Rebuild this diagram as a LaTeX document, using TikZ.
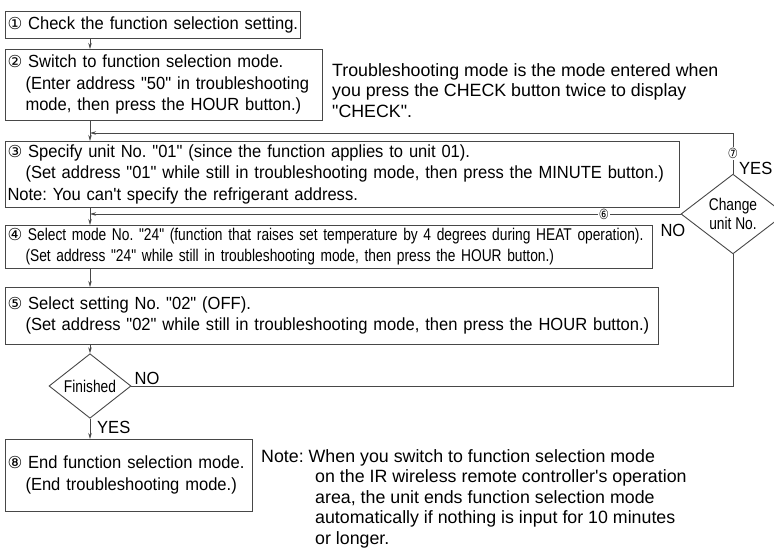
\documentclass[tikz,border=0pt]{standalone}
\usepackage{fontspec}
\newfontfamily\bodyfont[FakeStretch=0.94]{Liberation Sans}
\newfontfamily\notefont{Liberation Sans}
\newfontfamily\narrowfont[FakeStretch=0.81]{Liberation Sans}
\newfontfamily\circfont{DejaVu Sans}
\newfontfamily\circnarrow[FakeStretch=0.8]{DejaVu Sans}
\usetikzlibrary{arrows.meta, positioning, shapes.geometric}
\newcommand{\cn}[1]{{\circfont\fontsize{16.5}{16.5}\selectfont #1}}
\newcommand{\ind}{\hspace*{18pt}}
\colorlet{linec}{black!72}

\begin{document}
\frenchspacing
\begin{tikzpicture}[x=1pt, y=-1pt,
        font=\bodyfont\fontsize{17.6}{21.5}\selectfont,
        proc/.style = {draw=linec, line width=0.9pt, anchor=north west, inner xsep=2.5pt, inner ysep=0pt, align=left, outer sep=0pt},
        decision/.style = {draw=linec, line width=0.9pt, diamond, inner sep=0pt, align=center, font=\narrowfont\fontsize{17}{19}\selectfont},
        lbl/.style = {inner sep=0pt},
        circ/.style = {fill=white, inner sep=1pt, font=\circnarrow\fontsize{14}{14}\selectfont},
        arr/.style = {draw=linec, line width=0.8pt, -{Stealth[length=6pt, width=3.5pt]}},
        conn/.style = {draw=linec, line width=0.8pt}]
    \useasboundingbox (0,0) rectangle (774,549);
    \coordinate (spine) at (90,0);
    \coordinate (back) at (0,133);

    \node[proc, text width=290pt, minimum height=27pt] (1) at (5,11) {\mbox{\cn{①} Check the function selection setting.}};
    \node[proc, text width=312pt, minimum height=71pt] (2) at (5,49) {\cn{②} Switch to function selection mode.\\\ind(Enter address "50" in troubleshooting\\\ind mode, then press the HOUR button.)};
    \node[lbl, align=left, font=\notefont\fontsize{17.8}{20.5}\selectfont, below right=14pt and 10pt of 2.north east] (tnote) {Troubleshooting mode is the mode entered when\\you press the CHECK button twice to display\\"CHECK".};
    \node[proc, text width=669pt, minimum height=66pt] (3) at (5,141) {\cn{③} Specify unit No. "01" (since the function applies to unit 01).\\\ind\mbox{(Set address "01" while still in troubleshooting mode, then press the MINUTE button.)}\\Note: You can't specify the refrigerant address.};
    \node[proc, text width=642pt, minimum height=43pt, font=\narrowfont\fontsize{17}{21}\selectfont] (4) at (5,225) {\mbox{\cn{④} Select mode No. "24" (function that raises set temperature by 4 degrees during HEAT operation).}\\\ind(Set address "24" while still in troubleshooting mode, then press the HOUR button.)};
    \node[proc, text width=648pt, minimum height=57pt] (5) at (5,287) {\cn{⑤} Select setting No. "02" (OFF).\\\ind\mbox{(Set address "02" while still in troubleshooting mode, then press the HOUR button.)}};
    \node[decision, minimum width=82pt, minimum height=46pt] (fin) at (90,386) {Finished};
    \node[decision, minimum width=104pt, minimum height=54pt] (chg) at (733,214) {Change\\unit No.};
    \node[proc, text width=242pt, minimum height=72pt] (8) at (5,439) {\cn{⑧} End function selection mode.\\\ind(End troubleshooting mode.)};
    \node[lbl, align=left, font=\notefont\fontsize{17.8}{20.5}\selectfont, below right=10pt and 9pt of 8.north east] (note) {Note: When you switch to function selection mode\\\hspace*{54pt}on the IR wireless remote controller's operation\\\hspace*{54pt}area, the unit ends function selection mode\\\hspace*{54pt}automatically if nothing is input for 10 minutes\\\hspace*{54pt}or longer.};

    \draw[arr] (1.south -| spine) -- (2.north -| spine);
    \draw[arr] (2.south -| spine) -- (3.north -| spine);
    \draw[arr] (3.south -| spine) -- (4.north -| spine);
    \draw[arr] (4.south -| spine) -- (5.north -| spine);
    \draw[arr] (5.south -| spine) -- (fin.north);
    \draw[arr] (fin.south) -- (8.north -| fin);
    \draw[conn] (fin.east) -- (fin.east -| chg.south) -- (chg.south);
    \draw[arr] (chg.north) -- node[circ] {⑦} (chg.north |- back) -- (back -| spine);
    \draw[arr] (chg.west) -- node[circ, pos=0.13] {⑥} (chg.west -| spine);

    \node[lbl, above right=1pt and 3pt of fin.east] {NO};
    \node[lbl, below right=2pt and 7pt of fin.south] {YES};
    \node[lbl, above right=-1pt and 6pt of chg.north] {YES};
    \node[lbl, below left=10pt and -5pt of chg.west] {NO};
\end{tikzpicture}
\end{document}
